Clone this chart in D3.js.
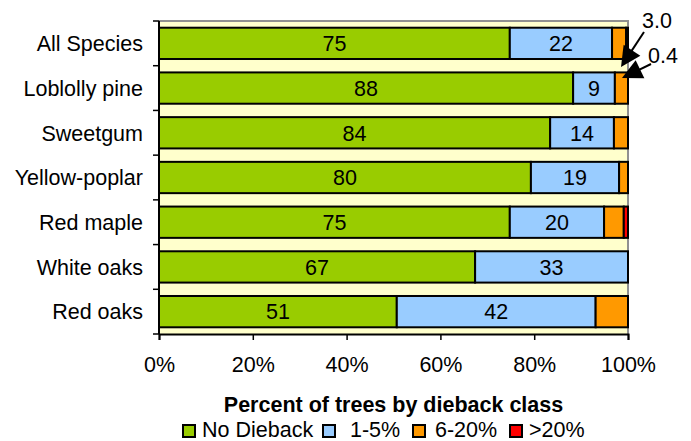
<!DOCTYPE html>
<html><head><meta charset="utf-8">
<script src="https://cdn.jsdelivr.net/npm/d3@7"></script>
<style>body{margin:0;background:#fff}svg{display:block}text{font-family:"Liberation Sans",Arial,sans-serif}</style>
</head><body>
<svg id="c" width="691" height="441"></svg>
<script>
const categories = ["All Species","Loblolly pine","Sweetgum","Yellow-poplar","Red maple","White oaks","Red oaks"];
const seriesNames = ["No Dieback","1-5%","6-20%",">20%"];
const noDieback = [74.8, 88.3, 83.4, 79.3, 74.8, 67.4, 50.7];
const pct1to5   = [21.8,  8.9, 13.6, 18.8, 20.1, 32.6, 42.4];
const pct6to20  = [ 3.0,  2.8,  3.0,  1.9,  4.2,  0.0,  6.9];
const pctOver20 = [ 0.4,  0.0,  0.0,  0.0,  0.9,  0.0,  0.0];
const barLabels1 = ["75","88","84","80","75","67","51"];
const barLabels2 = ["22","9","14","19","20","33","42"];
const xTicks = [0,20,40,60,80,100];
const annotations = [{text:"3.0"},{text:"0.4"}];
const colors = ["#99CC00","#99CCFF","#FF9900","#FF0000"];

const svg = d3.select("#c");
const FS = 21.5;
const m = {l:159, r:628, t:21, b:334};
const x = d3.scaleLinear().domain([0,100]).range([m.l, m.r]);
const y = d3.scaleBand().domain(categories).range([m.t, m.b]).paddingInner(0.3).paddingOuter(0.15);
const yb = d3.scaleBand().domain(categories).range([m.t, m.b]);

// plot area
svg.append("rect").attr("x",m.l).attr("y",m.t).attr("width",m.r-m.l).attr("height",m.b-m.t).attr("fill","#FFFFCC");
svg.append("path").attr("d",`M${m.l},${m.t}H${m.r}V${m.b}`).attr("fill","none").attr("stroke","#909090").attr("stroke-width",2);

const table = categories.map((c,i)=>({cat:c, vals:[noDieback[i],pct1to5[i],pct6to20[i],pctOver20[i]]}));
table.forEach((row,i)=>{
  let acc=0;
  row.vals.forEach((v,j)=>{
    if(v<=0) return;
    const x0=x(acc), x1=x(acc+v);
    svg.append("rect").attr("x",x0).attr("y",y(row.cat)).attr("width",x1-x0).attr("height",y.bandwidth())
      .attr("fill",colors[j]).attr("stroke","#000").attr("stroke-width",2);
    const lbl = j===0?barLabels1[i]:(j===1?barLabels2[i]:null);
    if(lbl) svg.append("text").attr("x",(x0+x1)/2).attr("y",y(row.cat)+y.bandwidth()/2).attr("dy","0.36em")
      .attr("text-anchor","middle").attr("font-size",FS).attr("fill","#000").text(lbl);
    acc+=v;
  });
});

// y axis
const ya = svg.append("g").attr("transform",`translate(${m.l},0)`);
ya.append("line").attr("x1",0).attr("x2",0).attr("y1",m.t).attr("y2",m.b).attr("stroke","#000").attr("stroke-width",2);
const ybTicks = categories.map(c=>yb(c)).concat([m.b]);
ybTicks.forEach(t=>ya.append("line").attr("x1",-6).attr("x2",0).attr("y1",t).attr("y2",t).attr("stroke","#000").attr("stroke-width",1.5));
categories.forEach(c=>ya.append("text").attr("x",-16).attr("y",yb(c)+yb.bandwidth()/2).attr("dy","0.36em")
  .attr("text-anchor","end").attr("font-size",FS).text(c));

// x axis
const xa = svg.append("g").attr("transform",`translate(0,${m.b})`)
  .call(d3.axisBottom(x).tickValues(xTicks).tickFormat(d=>d+"%").tickSize(6).tickPadding(17));
xa.select(".domain").attr("stroke","#000").attr("stroke-width",2);
xa.selectAll(".tick line").attr("stroke","#000").attr("stroke-width",1.5);
xa.selectAll(".tick text").attr("font-size",FS).attr("fill","#000").attr("font-family","Liberation Sans, Arial, sans-serif");

// title
svg.append("text").attr("x",(m.l+m.r)/2).attr("y",412).attr("text-anchor","middle").attr("font-size",FS).attr("font-weight","bold").text("Percent of trees by dieback class");

// legend
const legX = [183, 323, 413, 510];
const legTextOff = [19, 27, 22, 19];
seriesNames.forEach((s,i)=>{
  svg.append("rect").attr("x",legX[i]).attr("y",425).attr("width",12).attr("height",12).attr("fill",colors[i]).attr("stroke","#000").attr("stroke-width",2);
  svg.append("text").attr("x",legX[i]+legTextOff[i]).attr("y",437).attr("font-size",FS).text(s);
});

// annotations with arrows
function arrow(x1,y1,x2,y2){
  const ang=Math.atan2(y2-y1,x2-x1), L=20, W=10;
  svg.append("line").attr("x1",x1).attr("y1",y1).attr("x2",x2-Math.cos(ang)*L*0.8).attr("y2",y2-Math.sin(ang)*L*0.8).attr("stroke","#000").attr("stroke-width",2);
  const bx=x2-Math.cos(ang)*L, by=y2-Math.sin(ang)*L;
  const px=-Math.sin(ang)*W, py=Math.cos(ang)*W;
  svg.append("path").attr("d",`M${x2},${y2}L${bx+px},${by+py}L${bx-px},${by-py}Z`).attr("fill","#000");
}
svg.append("text").attr("x",642).attr("y",28).attr("font-size",FS).text(annotations[0].text);
svg.append("text").attr("x",648).attr("y",63).attr("font-size",FS).text(annotations[1].text);
arrow(644,32,621,67);
arrow(651,64,622,78);
</script>
</body></html>
